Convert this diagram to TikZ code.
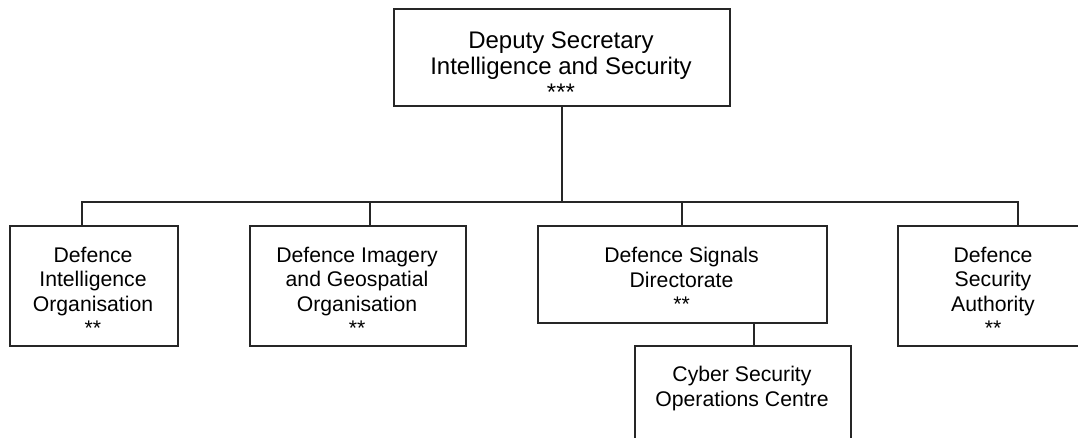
\documentclass[tikz,border=0pt]{standalone}
\usepackage{fontspec}
\setmainfont{Liberation Sans}
\begin{document}
\begin{tikzpicture}[x=1pt,y=-1pt,
  box/.style={draw=black!85, line width=1.6pt, rectangle, inner sep=0pt, anchor=north west},
  conn/.style={draw=black!85, line width=1.6pt},
  txt/.style={align=center, inner sep=0pt, font=\fontsize{21.2}{24.5}\selectfont},
  toptxt/.style={txt, font=\fontsize{24}{25.7}\selectfont}]
\clip (0,0) rectangle (1078,438);
\fill[white] (0,0) rectangle (1078,438);
% boxes
\node[box, minimum width=336pt, minimum height=97pt] (top) at (393,8) {};
\node[box, minimum width=168pt, minimum height=120pt] (dio) at (9,225) {};
\node[box, minimum width=216pt, minimum height=120pt] (digo) at (249,225) {};
\node[box, minimum width=289pt, minimum height=97pt] (dsd) at (537,225) {};
\node[box, minimum width=192pt, minimum height=120pt] (dsa) at (897,225) {};
\node[box, minimum width=216pt, minimum height=120pt] (csoc) at (634,345) {};
% texts
\node[toptxt] (topt) at (561,66) {Deputy Secretary\\Intelligence and Security\\***};
\node[txt] (diot) at (93,291.5) {Defence\\Intelligence\\Organisation\\**};
\node[txt] (digot) at (357,291.5) {Defence Imagery\\and Geospatial\\Organisation\\**};
\node[txt] (dsdt) at (681.5,279.5) {Defence Signals\\Directorate\\**};
\node[txt] (dsat) at (993,291.5) {Defence\\Security\\Authority\\**};
\node[txt] (csoct) at (742,388.5) {Cyber Security\\Operations Centre};
% connectors
\coordinate (busL) at (82,202);
\coordinate (bus2) at (370,202);
\coordinate (bus3) at (682,202);
\coordinate (busR) at (1018,202);
\coordinate (c5) at (754,0);
\draw[conn] (top.south) -- (top.south |- busL);
\draw[conn] (busL |- dio.north) -- (busL) -- (busR) -- (busR |- dsa.north);
\draw[conn] (bus2) -- (bus2 |- digo.north);
\draw[conn] (bus3) -- (bus3 |- dsd.north);
\draw[conn] (c5 |- dsd.south) -- (c5 |- csoc.north);
\end{tikzpicture}
\end{document}
